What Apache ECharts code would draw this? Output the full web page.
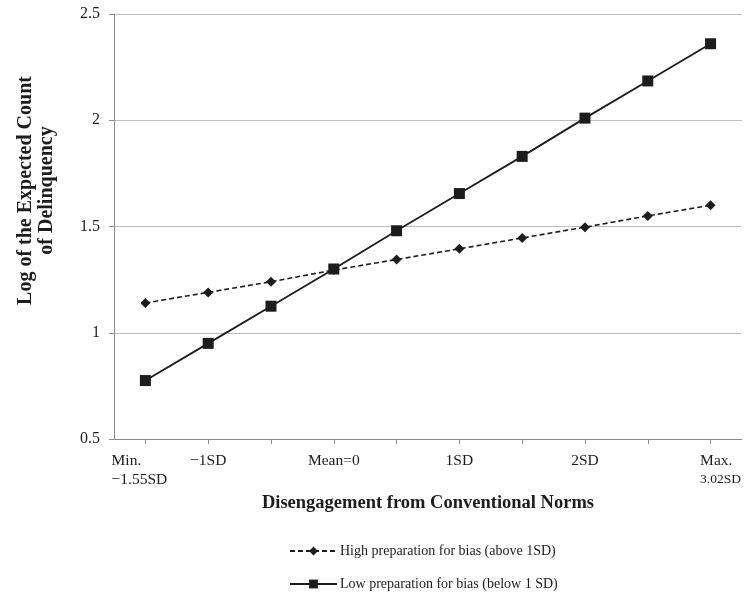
<!DOCTYPE html>
<html>
<head>
<meta charset="utf-8">
<script src="https://cdn.jsdelivr.net/npm/echarts@6/dist/echarts.min.js"></script>
<style>
  html, body { margin: 0; padding: 0; background: #fff; }
  #chart { width: 744px; height: 599px; }
</style>
</head>
<body>
<div id="chart"></div>
<script>
// x positions: Min (-1.55SD) ... Max (3.02SD), 10 evaluation points
const categories = ['min', '-1SD', 'a', 'mean', 'b', '1SD', 'c', '2SD', 'd', 'max'];
const tickLabels = ['Min.\n\u22121.55SD', '\u22121SD', '', 'Mean=0', '', '1SD', '', '2SD', '', 'Max.\n3.02SD'];
const highPrep = [1.14, 1.19, 1.24, 1.295, 1.345, 1.395, 1.446, 1.497, 1.55, 1.60];
const lowPrep = [0.775, 0.95, 1.125, 1.30, 1.48, 1.655, 1.83, 2.01, 2.185, 2.36];

const ink = '#1c1c1c';
const serif = '"Liberation Serif", "DejaVu Serif", serif';

const chart = echarts.init(document.getElementById('chart'));

chart.setOption({
  animation: false,
  textStyle: { fontFamily: serif, color: ink },
  grid: { left: 114, right: 2, top: 14, bottom: 160, containLabel: false },
  legend: {
    orient: 'vertical',
    left: 284,
    top: 539,
    itemWidth: 47,
    itemHeight: 11,
    itemGap: 19,
    textStyle: { fontFamily: serif, fontSize: 14, color: ink, padding: [0, 0, 0, -2] },
    data: ['High preparation for bias (above 1SD)', 'Low preparation for bias (below 1 SD)']
  },
  xAxis: {
    type: 'category',
    data: categories,
    boundaryGap: true,
    name: 'Disengagement from Conventional Norms',
    nameLocation: 'middle',
    nameGap: 55,
    nameTextStyle: { fontFamily: serif, fontSize: 18.5, fontWeight: 'bold', color: ink },
    axisLine: { lineStyle: { color: '#8c8c8c', width: 1 } },
    axisTick: { show: true, alignWithLabel: true, length: 5, inside: false, lineStyle: { color: '#8c8c8c' } },
    axisLabel: {
      interval: 0,
      margin: 12,
      fontSize: 15.5,
      lineHeight: 19,
      color: ink,
      formatter: (v, i) => {
        const t = tickLabels[i];
        if (!t) return '';
        if (i === 0) return t.split('\n').map(s => '{mn|' + s + '}').join('\n');
        if (i === 9) return t.split('\n').map((s, k) => k === 0 ? '{mx|' + s + '}' : '{mx2|' + s + '}').join('\n');
        return '{l|' + t + '}';
      },
      rich: {
        l: { fontFamily: serif, fontSize: 15.5, lineHeight: 19, color: ink },
        mn: { fontFamily: serif, fontSize: 15.5, align: 'left', lineHeight: 19, color: ink, padding: [0, 12, 0, 0] },
        mx: { fontFamily: serif, fontSize: 15.5, align: 'left', lineHeight: 19, color: ink, padding: [0, 0, 0, 20] },
        mx2: { fontFamily: serif, fontSize: 13.5, align: 'left', lineHeight: 19, color: ink, padding: [0, 0, 0, 20] }
      }
    },
    splitLine: { show: false }
  },
  yAxis: {
    type: 'value',
    min: 0.5,
    max: 2.5,
    interval: 0.5,
    name: 'Log of the Expected Count\nof Delinquency',
    nameLocation: 'middle',
    nameGap: 57,
    nameTextStyle: { fontFamily: serif, fontSize: 20, fontWeight: 'bold', color: ink, lineHeight: 21, padding: [0, 0, 0, 72] },
    axisLine: { show: true, lineStyle: { color: '#8c8c8c', width: 1 } },
    axisTick: { show: true, length: 5, lineStyle: { color: '#8c8c8c' } },
    axisLabel: { fontSize: 16, color: ink, margin: 14, formatter: v => String(v) },
    splitLine: { show: true, lineStyle: { color: '#bdbdbd', width: 1 } }
  },
  series: [
    {
      name: 'High preparation for bias (above 1SD)',
      type: 'line',
      data: highPrep,
      symbol: 'diamond',
      symbolSize: 10,
      lineStyle: { color: ink, width: 1.6, type: [5, 3] },
      itemStyle: { color: ink }
    },
    {
      name: 'Low preparation for bias (below 1 SD)',
      type: 'line',
      data: lowPrep,
      symbol: 'rect',
      symbolSize: 11,
      lineStyle: { color: ink, width: 1.8 },
      itemStyle: { color: ink }
    }
  ]
});
</script>
</body>
</html>
